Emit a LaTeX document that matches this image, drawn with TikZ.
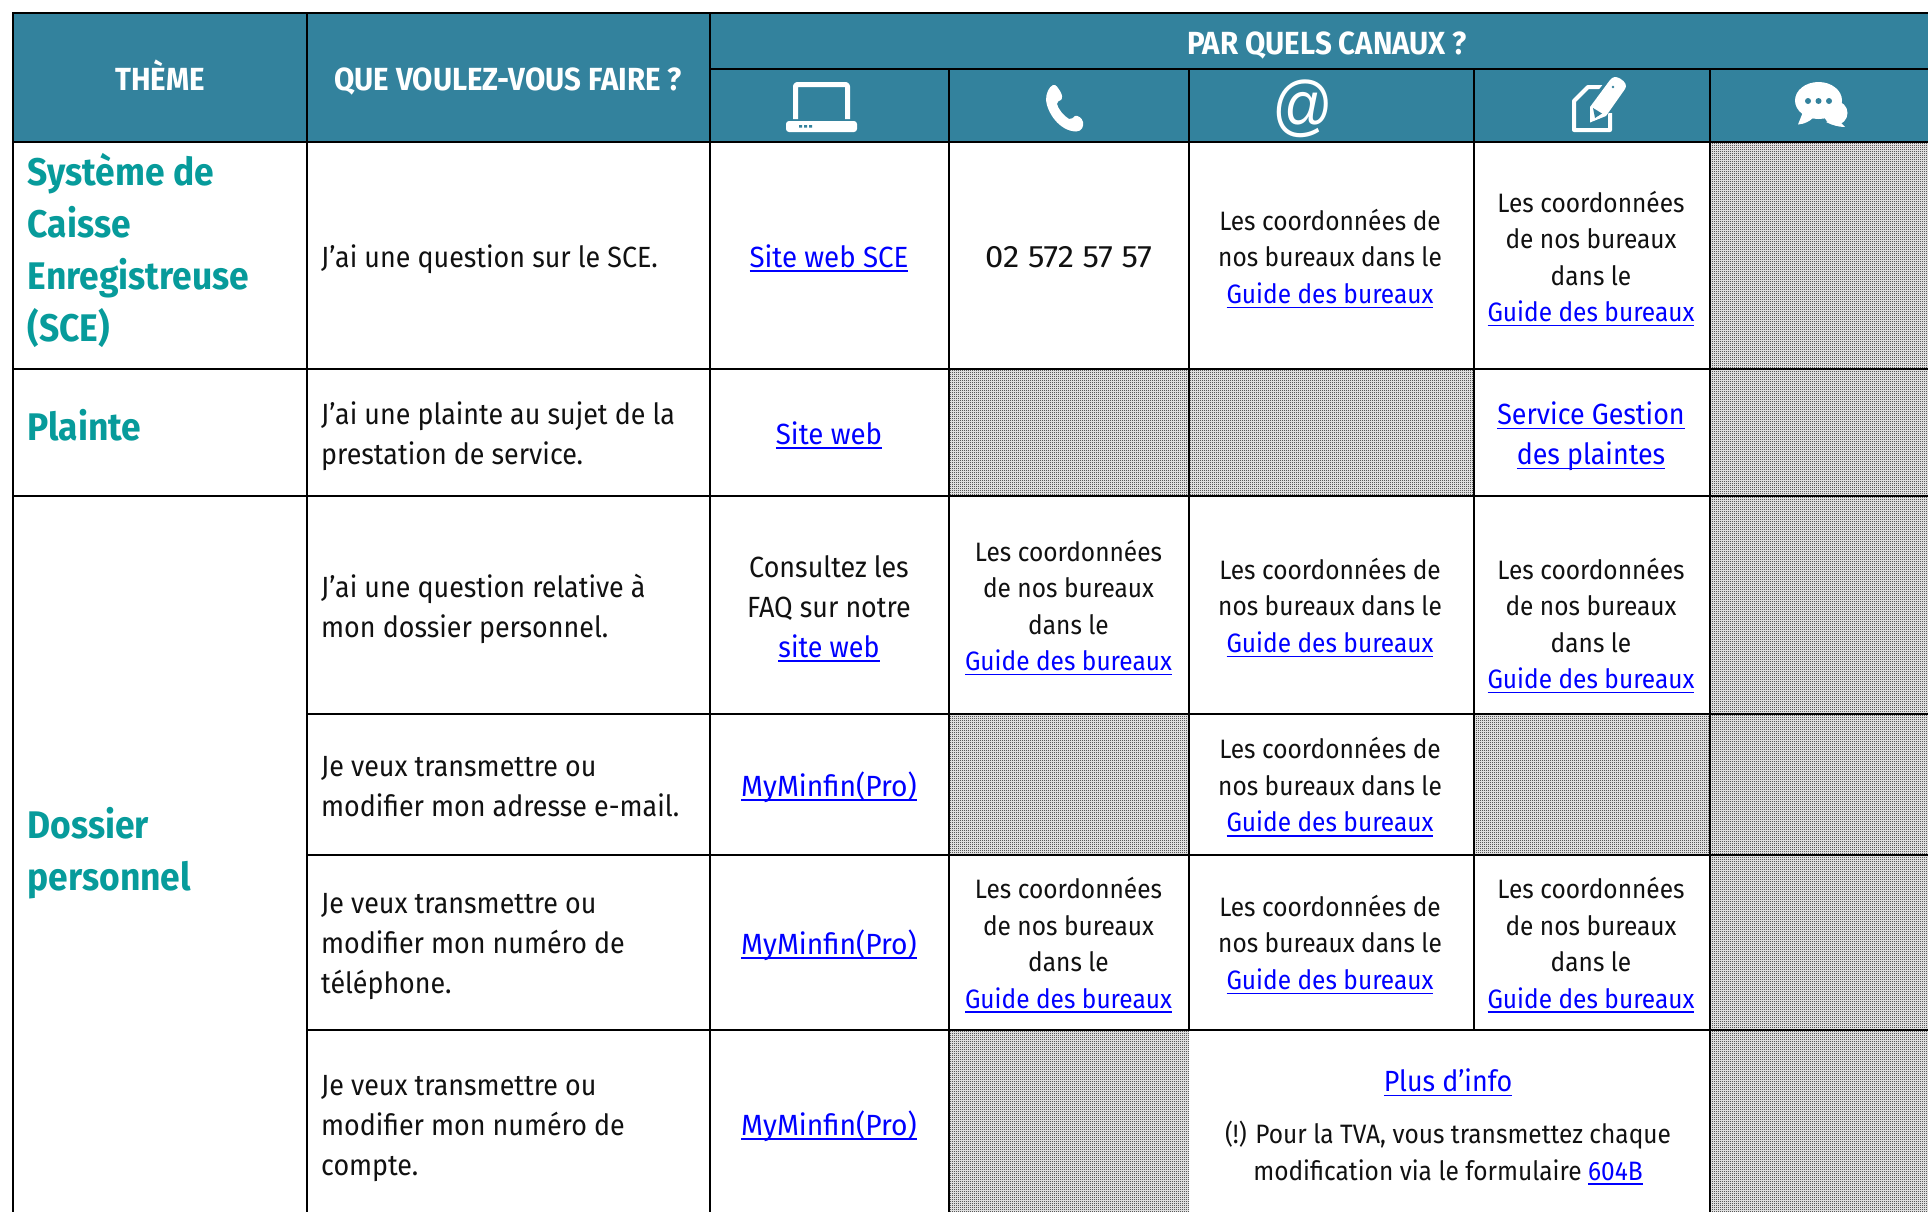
\documentclass[tikz,border=0pt]{standalone}
\usepackage{fontspec}
\usetikzlibrary{patterns}
\setmainfont[FakeStretch=0.92]{Fira Sans}
\newfontfamily\atfont{Liberation Sans}
\definecolor{hdr}{HTML}{33829D}
\definecolor{theme}{HTML}{079B9B}
\definecolor{lnkblue}{HTML}{0000FF}
\definecolor{ink}{HTML}{111111}
\newcommand\lnk[1]{{\leavevmode\color{lnkblue}\setbox0\hbox{#1}\rlap{\vrule width\wd0 height -3.2pt depth 4.7pt}\box0}}
\newcommand\gdb{\lnk{Guide des bureaux}}
\newcommand\bsmall{\fontsize{26.6}{36.5}\selectfont}
\newcommand\bbig{\fontsize{29.2}{40}\selectfont}
\pgfdeclarepatternformonly{fineck}{\pgfqpoint{0pt}{0pt}}{\pgfqpoint{2pt}{2pt}}{\pgfqpoint{2pt}{2pt}}{%
  \pgfpathrectangle{\pgfqpoint{0pt}{0pt}}{\pgfqpoint{1pt}{1pt}}%
  \pgfpathrectangle{\pgfqpoint{1pt}{1pt}}{\pgfqpoint{1pt}{1pt}}%
  \pgfusepath{fill}}
\tikzset{
  x=1pt,y=-1pt,
  grid/.style={line width=2pt,draw=black,line cap=rect},
  off/.style={pattern=fineck,pattern color=black},
  hd/.style={text=white,font=\bfseries\fontsize{32}{36}\selectfont,inner sep=0pt},
  th/.style={text=theme,font=\bfseries\fontsize{38.5}{52}\selectfont,inner sep=0pt,align=left},
  ask/.style={text=ink,font=\bbig,inner sep=0pt,align=left,anchor=west},
  cellS/.style={text=ink,font=\bsmall,inner sep=0pt,align=center},
  cellB/.style={text=ink,font=\bbig,inner sep=0pt,align=center},
  ico/.style={fill=white,draw=none},
}
\begin{document}
\begin{tikzpicture}
\useasboundingbox (0,0) rectangle (1928,1211);
\fill[white] (0,0) rectangle (1928,1211);
% header
\fill[hdr] (13,13) rectangle (1928,142);
% unavailable cells
\fill[off] (1710,142) rectangle (1928,1211);
\fill[off] (949,369) rectangle (1189,495.5);
\fill[off] (1189,369) rectangle (1474,495.5);
\fill[off] (949,714) rectangle (1189,855);
\fill[off] (1474,714) rectangle (1710,855);
\fill[off] (949,1030) rectangle (1189,1211);
% grid
\draw[grid] (13,13) -- (1928,13);
\draw[grid] (710,69) -- (1928,69);
\draw[grid] (13,142) -- (1928,142);
\draw[grid] (13,369) -- (1928,369);
\draw[grid] (13,495.5) -- (1928,495.5);
\draw[grid] (307,714) -- (1928,714);
\draw[grid] (307,855) -- (1928,855);
\draw[grid] (307,1030) -- (1928,1030);
\draw[grid] (13,13) -- (13,1211);
\draw[grid] (307,13) -- (307,1211);
\draw[grid] (710,13) -- (710,1211);
\draw[grid] (949,69) -- (949,1211);
\draw[grid] (1189,69) -- (1189,1030);
\draw[grid] (1474,69) -- (1474,1030);
\draw[grid] (1710,69) -- (1710,1211);
% header text
\node[hd] (h1) at (160,75.5) {THÈME};
\node[hd] (h2) at (508,81) {QUE VOULEZ-VOUS FAIRE ?};
\node[hd] (h3) at (1327,45) {PAR QUELS CANAUX ?};
% laptop icon
\draw[white,line width=5pt,line join=round,rounded corners=2pt] (795.5,119) -- (795.5,84.5) -- (847.5,84.5) -- (847.5,119);
\fill[white,rounded corners=3pt] (786,121) rectangle (857,132);
\fill[hdr] (799,125) rectangle (802,127.5) (804,125) rectangle (807,127.5) (809,125) rectangle (812,127.5);
% phone icon
\fill[ico] (1053,85) .. controls (1049,87) and (1046,93) .. (1046,100)
  .. controls (1047,112) and (1059,131) .. (1076,131.5)
  .. controls (1082,131.5) and (1084,126) .. (1083,122)
  .. controls (1082,118) and (1078,115) .. (1075,116)
  .. controls (1073,117) and (1072,120) .. (1069,119)
  .. controls (1064,116) and (1058,109) .. (1057,104)
  .. controls (1057,101) and (1059,101) .. (1061,100)
  .. controls (1063,98) and (1062,94) .. (1060,91)
  .. controls (1058,88) and (1056,84) .. (1053,85) -- cycle;
% at icon
\node[text=white,inner sep=0pt,yscale=1.12,font=\atfont\fontsize{60}{60}\selectfont] (at) at (1303,108.5) {@};
% doc and pencil icon
\draw[white,line width=4pt,line join=round] (1604,87) -- (1588,87) -- (1574,101) -- (1574,130) -- (1610,130) -- (1610,113);
\fill[hdr] (1587,104) -- (1610,76) -- (1628,84) -- (1608,114) -- (1596,127) -- (1586,126) -- cycle;
\fill[ico] (1590,122.5) -- (1590,107) -- (1610,80) .. controls (1612,77) and (1616,76) .. (1620,78.5)
  .. controls (1626,82) and (1627,86) .. (1625,89) -- (1606,116) -- cycle;
\fill[hdr] (1593,108) -- (1602,113.5) -- (1595,118) -- cycle;
\fill[hdr] (1613,87) circle[radius=1.3];
% chat icon
\fill[ico] (1835.5,113) circle[radius=12];
\fill[ico] (1818.5,100.5) ellipse[x radius=23.5,y radius=18.5];
\fill[ico] (1803,112) -- (1798,124.5) .. controls (1804,124) and (1809,122) .. (1814,117) -- cycle;
\fill[ico] (1838,120) -- (1845,127) .. controls (1838,127) and (1832,125) .. (1826,122) -- cycle;
\fill[hdr] (1808,101) circle[radius=3] (1818.5,101) circle[radius=3] (1829,101) circle[radius=3];
% themes
\node[th,anchor=west] (t1) at (27.5,250.5) {Système de\\Caisse\\Enregistreuse\\(SCE)};
\node[th,anchor=west] (t2) at (27.5,425) {Plainte};
\node[th,anchor=west] (t3) at (27.5,853) {Dossier\\personnel};
% questions
\node[ask] (q1) at (321,259) {J’ai une question sur le SCE.};
\node[ask] (q2) at (321,436.5) {J’ai une plainte au sujet de la\\prestation de service.};
\node[ask] (q3) at (321,608.5) {J’ai une question relative à\\mon dossier personnel.};
\node[ask] (q4) at (321,786.5) {Je veux transmettre ou\\modifier mon adresse e-mail.};
\node[ask] (q5) at (321,947) {Je veux transmettre ou\\modifier mon numéro de\\téléphone.};
\node[ask] (q6) at (321,1128.5) {Je veux transmettre ou\\modifier mon numéro de\\compte.};
% web
\node[cellB,xscale=1.03] (w1) at (829,258) {\lnk{Site web SCE}};
\node[cellB,xscale=1.03] (w2) at (829,435) {\lnk{Site web}};
\node[cellB] (w3) at (829,608.5) {Consultez les\\FAQ sur notre\\\lnk{site web}};
\node[cellB,xscale=1.05] (w4) at (829,787) {\lnk{MyMinfin(Pro)}};
\node[cellB,xscale=1.05] (w5) at (829,945) {\lnk{MyMinfin(Pro)}};
\node[cellB,xscale=1.05] (w6) at (829,1126) {\lnk{MyMinfin(Pro)}};
% phone
\node[cellB,xscale=1.15,font=\fontsize{31}{40}\selectfont] (p1) at (1068.5,257) {02 572 57 57};
\node[cellS] (p3) at (1068.5,607.5) {Les coordonnées\\de nos bureaux\\dans le\\\gdb};
\node[cellS] (p5) at (1068.5,945) {Les coordonnées\\de nos bureaux\\dans le\\\gdb};
% mail
\node[cellS] (m1) at (1330,258.5) {Les coordonnées de\\nos bureaux dans le\\\gdb};
\node[cellS] (m3) at (1330,607.5) {Les coordonnées de\\nos bureaux dans le\\\gdb};
\node[cellS] (m4) at (1330,787) {Les coordonnées de\\nos bureaux dans le\\\gdb};
\node[cellS] (m5) at (1330,944.5) {Les coordonnées de\\nos bureaux dans le\\\gdb};
% post
\node[cellS] (c1) at (1591,258.5) {Les coordonnées\\de nos bureaux\\dans le\\\gdb};
\node[cellB] (c2) at (1591,436.5) {\lnk{Service Gestion}\\\lnk{des plaintes}};
\node[cellS] (c3) at (1591,625.5) {Les coordonnées\\de nos bureaux\\dans le\\\gdb};
\node[cellS] (c5) at (1591,945) {Les coordonnées\\de nos bureaux\\dans le\\\gdb};
% merged cell
\node[cellB] (v1) at (1448,1082.5) {\lnk{Plus d’info}};
\node[cellS] (v2) at (1448,1153) {(!) Pour la TVA, vous transmettez chaque\\modification via le formulaire \lnk{604B}};
\end{tikzpicture}
\end{document}
